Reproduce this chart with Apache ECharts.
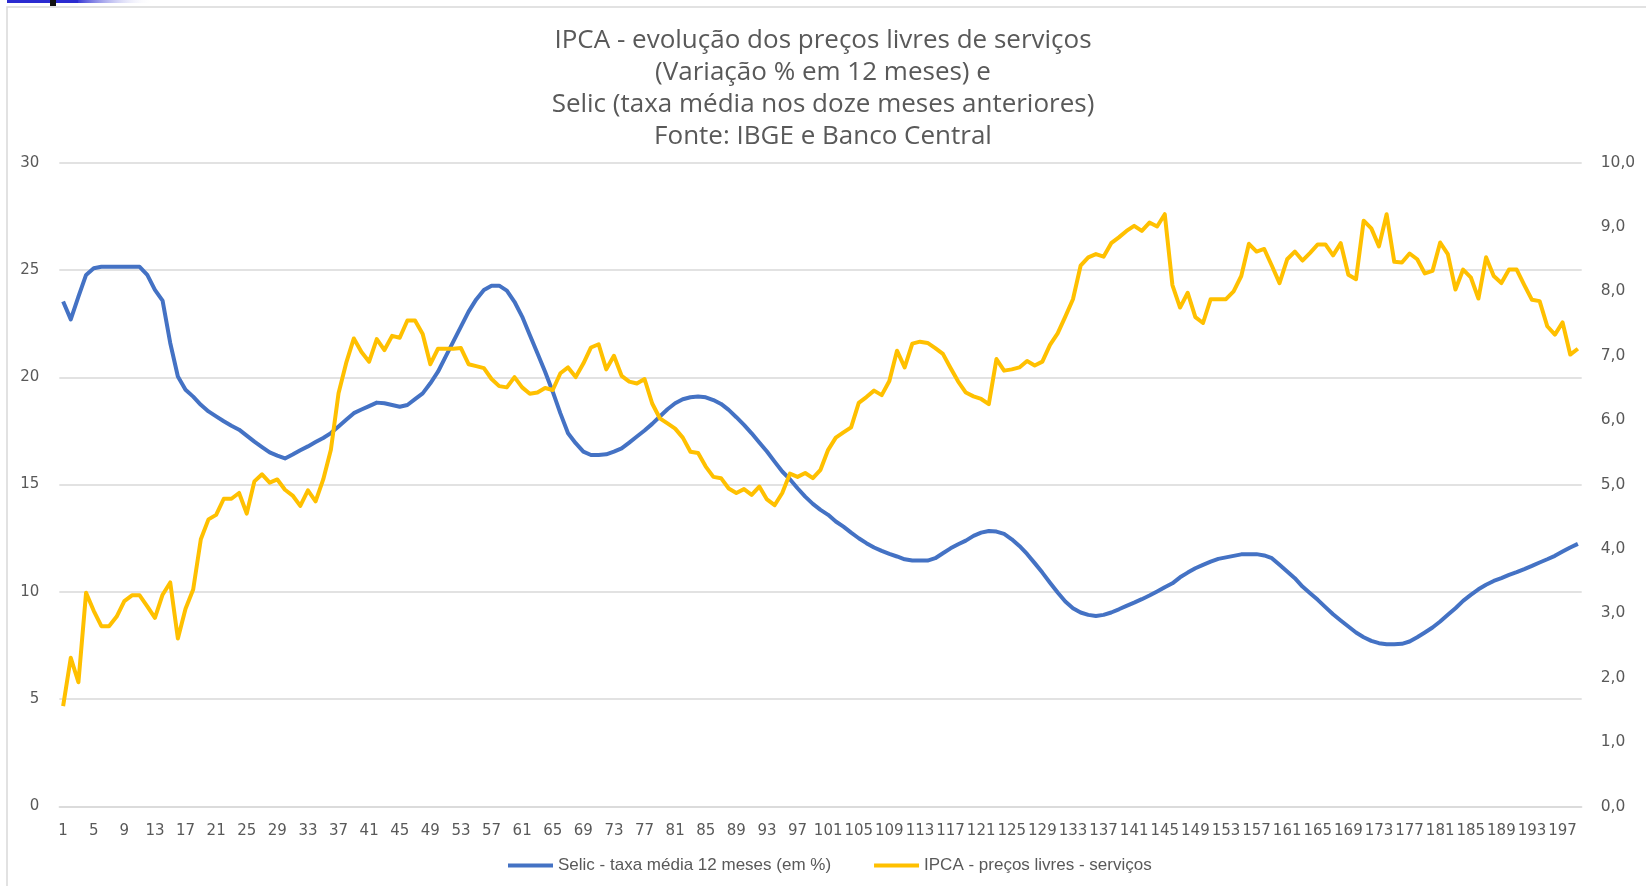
<!DOCTYPE html>
<html>
<head>
<meta charset="utf-8">
<script src="https://cdn.jsdelivr.net/npm/echarts@6/dist/echarts.min.js"></script>
<style>
html,body{margin:0;padding:0;background:#fff;}
#chart{width:1646px;height:886px;}
</style>
</head>
<body>
<div id="chart"></div>
<script>
const titleLines = [
  'IPCA - evolução dos preços livres de serviços',
  '(Variação % em 12 meses) e',
  'Selic (taxa média nos doze meses anteriores)',
  'Fonte: IBGE e Banco Central'
];
const seriesNames = ['Selic - taxa média 12 meses (em %)', 'IPCA - preços livres - serviços'];

// categories 1..199
const categories = [];
for (let i = 1; i <= 199; i++) categories.push(String(i));

const selic = [
23.53,22.7,23.76,24.77,25.08,25.15,25.15,25.15,25.15,25.15,
25.15,24.77,24.07,23.57,21.6,20.04,19.42,19.1,18.72,18.41,
18.18,17.95,17.74,17.56,17.28,17.0,16.75,16.5,16.35,16.22,
16.4,16.6,16.78,16.98,17.17,17.4,17.71,18.02,18.33,18.5,
18.66,18.82,18.79,18.71,18.63,18.71,18.98,19.25,19.72,20.26,
20.96,21.66,22.36,23.06,23.63,24.07,24.27,24.27,24.04,23.52,
22.83,21.97,21.12,20.26,19.33,18.32,17.39,16.93,16.54,16.38,
16.38,16.41,16.54,16.69,16.96,17.24,17.52,17.83,18.17,18.51,
18.79,18.98,19.07,19.1,19.07,18.94,18.76,18.48,18.14,17.78,
17.39,16.96,16.54,16.07,15.61,15.25,14.83,14.44,14.1,13.82,
13.59,13.28,13.04,12.76,12.5,12.27,12.07,11.91,11.77,11.65,
11.52,11.46,11.46,11.46,11.57,11.8,12.03,12.22,12.39,12.61,
12.76,12.84,12.81,12.7,12.45,12.14,11.77,11.34,10.9,10.43,
9.97,9.55,9.24,9.04,8.93,8.88,8.93,9.04,9.19,9.35,
9.5,9.66,9.83,10.02,10.22,10.4,10.68,10.9,11.1,11.26,
11.41,11.54,11.61,11.68,11.75,11.75,11.76,11.7,11.57,11.26,
10.95,10.64,10.25,9.94,9.63,9.29,8.96,8.67,8.39,8.11,
7.89,7.72,7.61,7.56,7.56,7.58,7.69,7.89,8.11,8.34,
8.62,8.93,9.24,9.58,9.86,10.12,10.33,10.51,10.64,10.79,
10.92,11.06,11.21,11.37,11.52,11.68,11.88,12.07,12.24
];

const ipca = [
1.56,2.31,1.93,3.32,3.04,2.80,2.80,2.95,3.19,3.28,
3.28,3.11,2.93,3.29,3.48,2.61,3.07,3.37,4.15,4.46,
4.53,4.78,4.78,4.87,4.55,5.05,5.16,5.03,5.08,4.92,
4.83,4.67,4.91,4.74,5.08,5.54,6.42,6.89,7.27,7.06,
6.91,7.26,7.09,7.31,7.28,7.55,7.55,7.34,6.87,7.11,
7.11,7.11,7.12,6.87,6.84,6.81,6.64,6.53,6.51,6.67,
6.51,6.41,6.43,6.50,6.47,6.73,6.82,6.67,6.88,7.13,
7.18,6.79,7.0,6.69,6.6,6.57,6.64,6.26,6.03,5.95,
5.87,5.73,5.51,5.49,5.28,5.12,5.1,4.94,4.87,4.93,
4.84,4.97,4.77,4.68,4.87,5.17,5.12,5.18,5.1,5.23,
5.54,5.73,5.81,5.89,6.27,6.36,6.46,6.39,6.61,7.08,
6.82,7.19,7.22,7.2,7.12,7.03,6.81,6.6,6.43,6.37,
6.33,6.25,6.95,6.77,6.79,6.82,6.92,6.85,6.91,7.17,
7.35,7.61,7.88,8.4,8.53,8.58,8.54,8.75,8.84,8.94,
9.02,8.94,9.07,9.01,9.2,8.1,7.75,7.98,7.6,7.51,
7.88,7.88,7.88,8.0,8.24,8.74,8.62,8.66,8.4,8.13,
8.5,8.62,8.48,8.6,8.73,8.73,8.56,8.75,8.26,8.19,
9.1,8.98,8.7,9.2,8.46,8.45,8.59,8.5,8.28,8.32,
8.76,8.58,8.03,8.34,8.22,7.89,8.53,8.24,8.13,8.34,
8.34,8.1,7.87,7.85,7.46,7.33,7.52,7.02,7.11
];

const leftTicks = {min: 0, max: 30, interval: 5};
const rightTicks = {min: 0, max: 10, interval: 1};

const chart = echarts.init(document.getElementById('chart'), null, {renderer: 'canvas'});
const axisFont = 'DejaVu Sans';
chart.setOption({
  animation: false,
  backgroundColor: '#fff',
  graphic: [
    {type: 'rect', shape: {x: 7, y: 7, width: 1660, height: 900}, style: {fill: 'none', stroke: '#d9d9d9', lineWidth: 1.5}, silent: true, z: -10},
    {type: 'rect', shape: {x: 7, y: 0, width: 72, height: 3}, style: {fill: '#2b2bd0'}, silent: true},
    {type: 'rect', shape: {x: 78, y: 0, width: 75, height: 3}, style: {fill: new echarts.graphic.LinearGradient(0,0,1,0,[{offset:0,color:'#3b3bd6'},{offset:1,color:'rgba(255,255,255,0)'}])}, silent: true},
    {type: 'rect', shape: {x: 50, y: 0, width: 6, height: 6}, style: {fill: '#111'}, silent: true}
  ],
  title: {
    text: titleLines.join('\n'),
    left: 'center',
    top: 25,
    padding: 0,
    textStyle: {fontFamily: 'Open Sans', fontSize: 26, fontWeight: 'normal', color: '#595959', lineHeight: 31.8}
  },
  legend: {
    left: 508,
    top: 857,
    padding: 0,
    itemWidth: 45,
    itemHeight: 4,
    itemGap: 43,
    icon: 'rect',
    textStyle: {fontFamily: 'Liberation Sans Narrow, Liberation Sans', fontSize: 17, color: '#595959'},
    data: seriesNames
  },
  grid: {left: 59.3, right: 64.3, top: 162.7, bottom: 79.5, containLabel: false},
  xAxis: {
    type: 'category',
    data: categories,
    boundaryGap: true,
    axisLine: {show: true, lineStyle: {color: '#d9d9d9', width: 1.5}},
    axisTick: {show: false},
    axisLabel: {interval: 3, color: '#595959', fontFamily: axisFont, fontSize: 15, margin: 17}
  },
  yAxis: [
    {
      type: 'value', min: leftTicks.min, max: leftTicks.max, interval: leftTicks.interval,
      axisLine: {show: false}, axisTick: {show: false},
      splitLine: {lineStyle: {color: '#d9d9d9', width: 1.5}},
      axisLabel: {color: '#595959', fontFamily: axisFont, fontSize: 15, margin: 20}
    },
    {
      type: 'value', position: 'right', min: rightTicks.min, max: rightTicks.max, interval: rightTicks.interval,
      axisLine: {show: false}, axisTick: {show: false}, splitLine: {show: false},
      axisLabel: {color: '#595959', fontFamily: axisFont, fontSize: 15.5, margin: 19,
        formatter: v => v.toFixed(1).replace('.', ',')}
    }
  ],
  series: [
    {name: seriesNames[0], type: 'line', data: selic, yAxisIndex: 0, showSymbol: false, symbol: 'none',
      lineStyle: {color: '#4472C4', width: 4, join: 'round'}, itemStyle: {color: '#4472C4'}, z: 2},
    {name: seriesNames[1], type: 'line', data: ipca, yAxisIndex: 1, showSymbol: false, symbol: 'none',
      lineStyle: {color: '#FFC000', width: 4, join: 'round'}, itemStyle: {color: '#FFC000'}, z: 3}
  ]
});
</script>
</body>
</html>
